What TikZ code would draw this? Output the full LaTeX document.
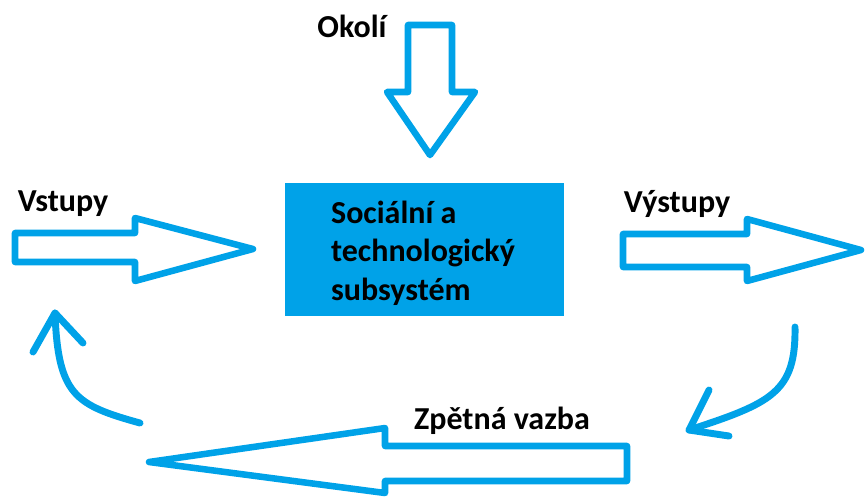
\documentclass[tikz,border=0pt]{standalone}
\usepackage{fontspec}
\setmainfont{Carlito}
\usepackage{tikz}
\definecolor{paintblue}{HTML}{00A2E8}
\tikzset{
	blockarrow/.style={draw=paintblue,line width=4.9pt,line join=round},
	bentarrow/.style={draw=paintblue,line width=5.2pt,line cap=round,line join=round},
	tag/.style={font=\bfseries\fontsize{24}{29}\selectfont,inner sep=0pt},
	sysbox/.style={fill=paintblue,minimum width=209.25pt,minimum height=99.75pt,align=left,inner sep=0pt}
}

\begin{document}
\begin{tikzpicture}[x=0.75pt,y=-0.75pt]
\useasboundingbox (0,0) rectangle (866,497);
%
\node[sysbox,tag] (sys) at (424.5,249.5) {};
\node[tag,align=left] (systext) at (423,253) {Sociální a\\technologický\\subsystém};
%
% Okoli (top)
\coordinate (o1) at (408,25);
\coordinate (o2) at (452,25);
\coordinate (o3) at (452,92);
\coordinate (o4) at (475,92);
\coordinate (o5) at (430,155);
\coordinate (o6) at (387,92);
\coordinate (o7) at (408,92);
\draw[blockarrow] (o1) to (o2) to (o3) to (o4) to (o5) to (o6) to (o7) -- cycle;
\node[tag] (okoli) at (352,26) {Okolí};
%
% Vstupy (left)
\coordinate (v1) at (15,233);
\coordinate (v2) at (135,233);
\coordinate (v3) at (135,218);
\coordinate (v4) at (253,249);
\coordinate (v5) at (135,281);
\coordinate (v6) at (135,262);
\coordinate (v7) at (15,262);
\draw[blockarrow] (v1) to (v2) to (v3) to (v4) to (v5) to (v6) to (v7) -- cycle;
\node[tag] (vstupy) at (63,204) {Vstupy};
%
% Vystupy (right)
\coordinate (w1) at (623,234);
\coordinate (w2) at (747,234);
\coordinate (w3) at (747,219);
\coordinate (w4) at (861,250);
\coordinate (w5) at (747,281);
\coordinate (w6) at (747,267);
\coordinate (w7) at (623,267);
\draw[blockarrow] (w1) to (w2) to (w3) to (w4) to (w5) to (w6) to (w7) -- cycle;
\node[tag] (vystupy) at (677,204) {Výstupy};
%
% Zpetna vazba (bottom)
\coordinate (z1) at (627,446);
\coordinate (z2) at (385,446);
\coordinate (z3) at (385,428);
\coordinate (z4) at (149,462);
\coordinate (z5) at (385,493);
\coordinate (z6) at (385,481);
\coordinate (z7) at (627,481);
\draw[blockarrow] (z1) to (z2) to (z3) to (z4) to (z5) to (z6) to (z7) -- cycle;
\node[tag] (vazba) at (502,421) {Zpětná vazba};
%
% bent arrows
\coordinate (rs) at (795,327);
\coordinate (rt) at (689,430);
\coordinate (rb1) at (709,390);
\coordinate (rb2) at (729,436);
\draw[bentarrow] (rs) .. controls (796,392) and (772,403) .. (rt);
\draw[bentarrow] (rb1) to (rt) to (rb2);
%
\coordinate (ls) at (140,423);
\coordinate (lt) at (55,313);
\coordinate (lb1) at (33,352);
\coordinate (lb2) at (83,343);
\draw[bentarrow] (ls) .. controls (75,405) and (58,395) .. (lt);
\draw[bentarrow] (lb1) to (lt) to (lb2);
\end{tikzpicture}
\end{document}
